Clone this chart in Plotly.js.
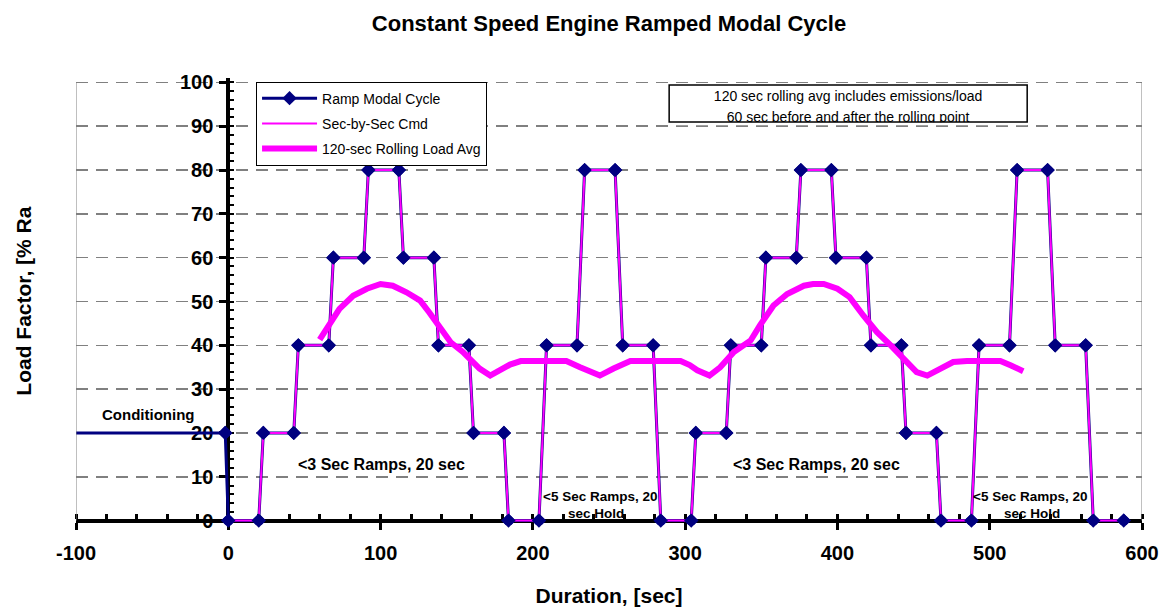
<!DOCTYPE html>
<html>
<head>
<meta charset="utf-8">
<script src="https://cdn.plot.ly/plotly-3.0.1.min.js"></script>
<style>
html,body{margin:0;padding:0;background:#fff;}
#chart{width:1163px;height:607px;}
</style>
</head>
<body>
<div id="chart"></div>
<script>
// Conditioning segment (before cycle start)
const condX = [-100, -2];
const condY = [20, 20];

// Ramp Modal Cycle points (seconds, % load)
const rampX = [-2, 0, 20, 23, 43, 46, 66, 69, 89, 92, 112, 115, 135, 138, 158, 161, 181, 184,
  204, 209, 229, 234, 254, 259, 279, 284, 304, 307, 327, 330, 350, 353, 373, 376, 396, 399,
  419, 422, 442, 445, 465, 468, 488, 493, 513, 518, 538, 543, 563, 568, 588];
const rampY = [20, 0, 0, 20, 20, 40, 40, 60, 60, 80, 80, 60, 60, 40, 40, 20, 20, 0,
  0, 40, 40, 80, 80, 40, 40, 0, 0, 20, 20, 40, 40, 60, 60, 80, 80, 60,
  60, 40, 40, 20, 20, 0, 0, 40, 40, 80, 80, 40, 40, 0, 0];

// Second-by-second command (same path, from t = 0)
const secX = rampX.slice(1);
const secY = rampY.slice(1);

// 120-sec rolling load average
const rollX = [60, 67, 73, 82, 91, 100, 108, 117, 126, 132, 139, 146, 154, 160, 165, 172, 178, 185,
  192, 200, 210, 222, 231, 238, 244, 253, 264, 275, 285, 297, 303, 308, 316, 323, 332, 343,
  349, 358, 367, 378, 384, 391, 400, 408, 417, 426, 435, 443, 452, 459, 468, 476, 485, 495,
  507, 514, 522];
const rollY = [41.3, 45.3, 48.3, 51.3, 52.9, 54, 53.6, 52.1, 50.2, 47.5, 43.8, 40.7, 38.5, 36.6, 34.7, 33.1, 34.3, 35.6,
  36.4, 36.4, 36.4, 36.4, 35, 34, 33.1, 34.7, 36.4, 36.4, 36.4, 36.4, 35.5, 34.3, 33.1, 35, 38.5, 41.1,
  44.5, 49.1, 51.7, 53.6, 54, 54, 52.9, 51, 46.8, 43, 40, 36.9, 33.9, 33.1, 34.7, 36.2, 36.4, 36.4,
  36.4, 35.4, 34.1];

// Tick labels
const xTickVals = [-100, 0, 100, 200, 300, 400, 500, 600];
const xTickText = ["-100", "0", "100", "200", "300", "400", "500", "600"];

const noteLines = ["120 sec rolling avg includes emissions/load", "60 sec before and after the rolling point"];

const NAVY = "#000080";
const MAG = "#FF00FF";
const FONT = "Arial, 'Liberation Sans', sans-serif";

const traces = [
  {x: condX, y: condY, mode: "lines", line: {color: NAVY, width: 3}, showlegend: false, hoverinfo: "skip"},
  {x: rampX, y: rampY, mode: "lines+markers", name: "Ramp Modal Cycle", legendgroup: "a", legendrank: 1,
   line: {color: NAVY, width: 3}, marker: {symbol: "diamond", size: 11, color: NAVY}},
  {x: secX, y: secY, mode: "lines", name: "Sec-by-Sec Cmd", legendgroup: "b", legendrank: 2,
   line: {color: MAG, width: 2}},
  {x: rampX, y: rampY, mode: "markers", showlegend: false, hoverinfo: "skip", cliponaxis: false,
   marker: {symbol: "diamond", size: 11, color: NAVY}},
  {x: rollX, y: rollY, mode: "lines", name: "120-sec Rolling Load Avg", legendgroup: "c", legendrank: 3,
   line: {color: MAG, width: 6}},
  {x: [407, 407], y: [96.55, 91.65], mode: "text", text: noteLines, textposition: "middle center",
   textfont: {family: FONT, size: 14, color: "#000"}, showlegend: false, hoverinfo: "skip", cliponaxis: false}
];

const layout = {
  width: 1163, height: 607,
  margin: {l: 76, r: 21, t: 78, b: 82},
  paper_bgcolor: "#fff", plot_bgcolor: "#fff",
  font: {family: FONT, color: "#000"},
  showlegend: true,
  title: {text: "Constant Speed Engine Ramped Modal Cycle", x: 0.5, xref: "paper", xanchor: "center",
          y: 0.962, yref: "container", yanchor: "middle",
          font: {family: FONT, size: 22, weight: "bold", color: "#000"}},
  xaxis: {
    range: [-100, 600], tickmode: "array", tickvals: xTickVals, ticktext: xTickText,
    anchor: "free", position: 1/102,
    showgrid: false, zeroline: false,
    showline: true, linecolor: "#000", linewidth: 4,
    ticks: "outside", ticklen: 7, tickwidth: 3, tickcolor: "#000",
    minor: {dtick: 20, tick0: 0, ticks: "inside", ticklen: 5, tickwidth: 3, tickcolor: "#000", showgrid: false},
    tickfont: {family: FONT, size: 20, weight: "bold", color: "#000"},
    ticklabelstandoff: 6,
    layer: "below traces",
    title: {text: "Duration, [sec]", standoff: 30, font: {family: FONT, size: 21, weight: "bold", color: "#000"}}
  },
  yaxis: {
    range: [-1, 101], dtick: 10, tick0: 0,
    anchor: "free", position: 1/7,
    showgrid: true, gridcolor: "#808080", gridwidth: 1.5, griddash: "12px,8px",
    zeroline: false,
    showline: true, linecolor: "#000", linewidth: 4,
    ticks: "outside", ticklen: 7, tickwidth: 3, tickcolor: "#000",
    minor: {dtick: 2, ticks: "inside", ticklen: 4, tickwidth: 2, tickcolor: "#000", showgrid: false},
    tickfont: {family: FONT, size: 20, weight: "bold", color: "#000"},
    ticklabelstandoff: 2,
    layer: "below traces"
  },
  legend: {
    x: 0.1689, y: 0.992, xanchor: "left", yanchor: "top",
    bgcolor: "#fff", bordercolor: "#000", borderwidth: 1,
    font: {family: FONT, size: 14, color: "#000"},
    traceorder: "grouped", tracegroupgap: 4, itemwidth: 55
  },
  shapes: [
    {type: "line", xref: "x", yref: "y", x0: -100, x1: -100, y0: 0, y1: 100, line: {color: "#808080", width: 1}},
    {type: "line", xref: "x", yref: "y", x0: 600, x1: 600, y0: 0, y1: 100, line: {color: "#808080", width: 1}},
    {type: "rect", xref: "x", yref: "y", x0: 289.5, x1: 524.6, y0: 90.2, y1: 90.9, layer: "above",
     fillcolor: "#fff", line: {width: 0}},
    {type: "rect", xref: "x", yref: "y", x0: 289.5, x1: 524.6, y0: 90.96, y1: 99.4, layer: "above",
     fillcolor: "rgba(0,0,0,0)", line: {color: "#000", width: 1.5}}
  ],
  annotations: [
    {text: "Load Factor, [% Ra", textangle: -90, xref: "paper", yref: "paper", x: -0.0488, y: 0.286,
     xanchor: "center", yanchor: "bottom", showarrow: false,
     font: {family: FONT, size: 21, weight: "bold", color: "#000"}},
    {text: "Conditioning", xref: "x", yref: "y", x: -52.7, y: 24.3, showarrow: false,
     font: {family: FONT, size: 15, weight: "bold", color: "#000"}},
    {text: "<3 Sec Ramps, 20 sec", xref: "x", yref: "y", x: 100.3, y: 12.7, showarrow: false,
     font: {family: FONT, size: 16, weight: "bold", color: "#000"}},
    {text: "<3 Sec Ramps, 20 sec", xref: "x", yref: "y", x: 386, y: 12.7, showarrow: false,
     font: {family: FONT, size: 16, weight: "bold", color: "#000"}},
    {text: "<5 Sec Ramps, 20", xref: "x", yref: "y", x: 244, y: 5.4, showarrow: false,
     font: {family: FONT, size: 13.5, weight: "bold", color: "#000"}},
    {text: "sec Hold", xref: "x", yref: "y", x: 241.6, y: 1.6, showarrow: false,
     font: {family: FONT, size: 13.5, weight: "bold", color: "#000"}},
    {text: "<5 Sec Ramps, 20", xref: "x", yref: "y", x: 526.4, y: 5.4, showarrow: false,
     font: {family: FONT, size: 13.5, weight: "bold", color: "#000"}},
    {text: "sec Hold", xref: "x", yref: "y", x: 527.8, y: 1.6, showarrow: false,
     font: {family: FONT, size: 13.5, weight: "bold", color: "#000"}}
  ]
};

Plotly.newPlot("chart", traces, layout, {staticPlot: true, displayModeBar: false});
</script>
</body>
</html>
